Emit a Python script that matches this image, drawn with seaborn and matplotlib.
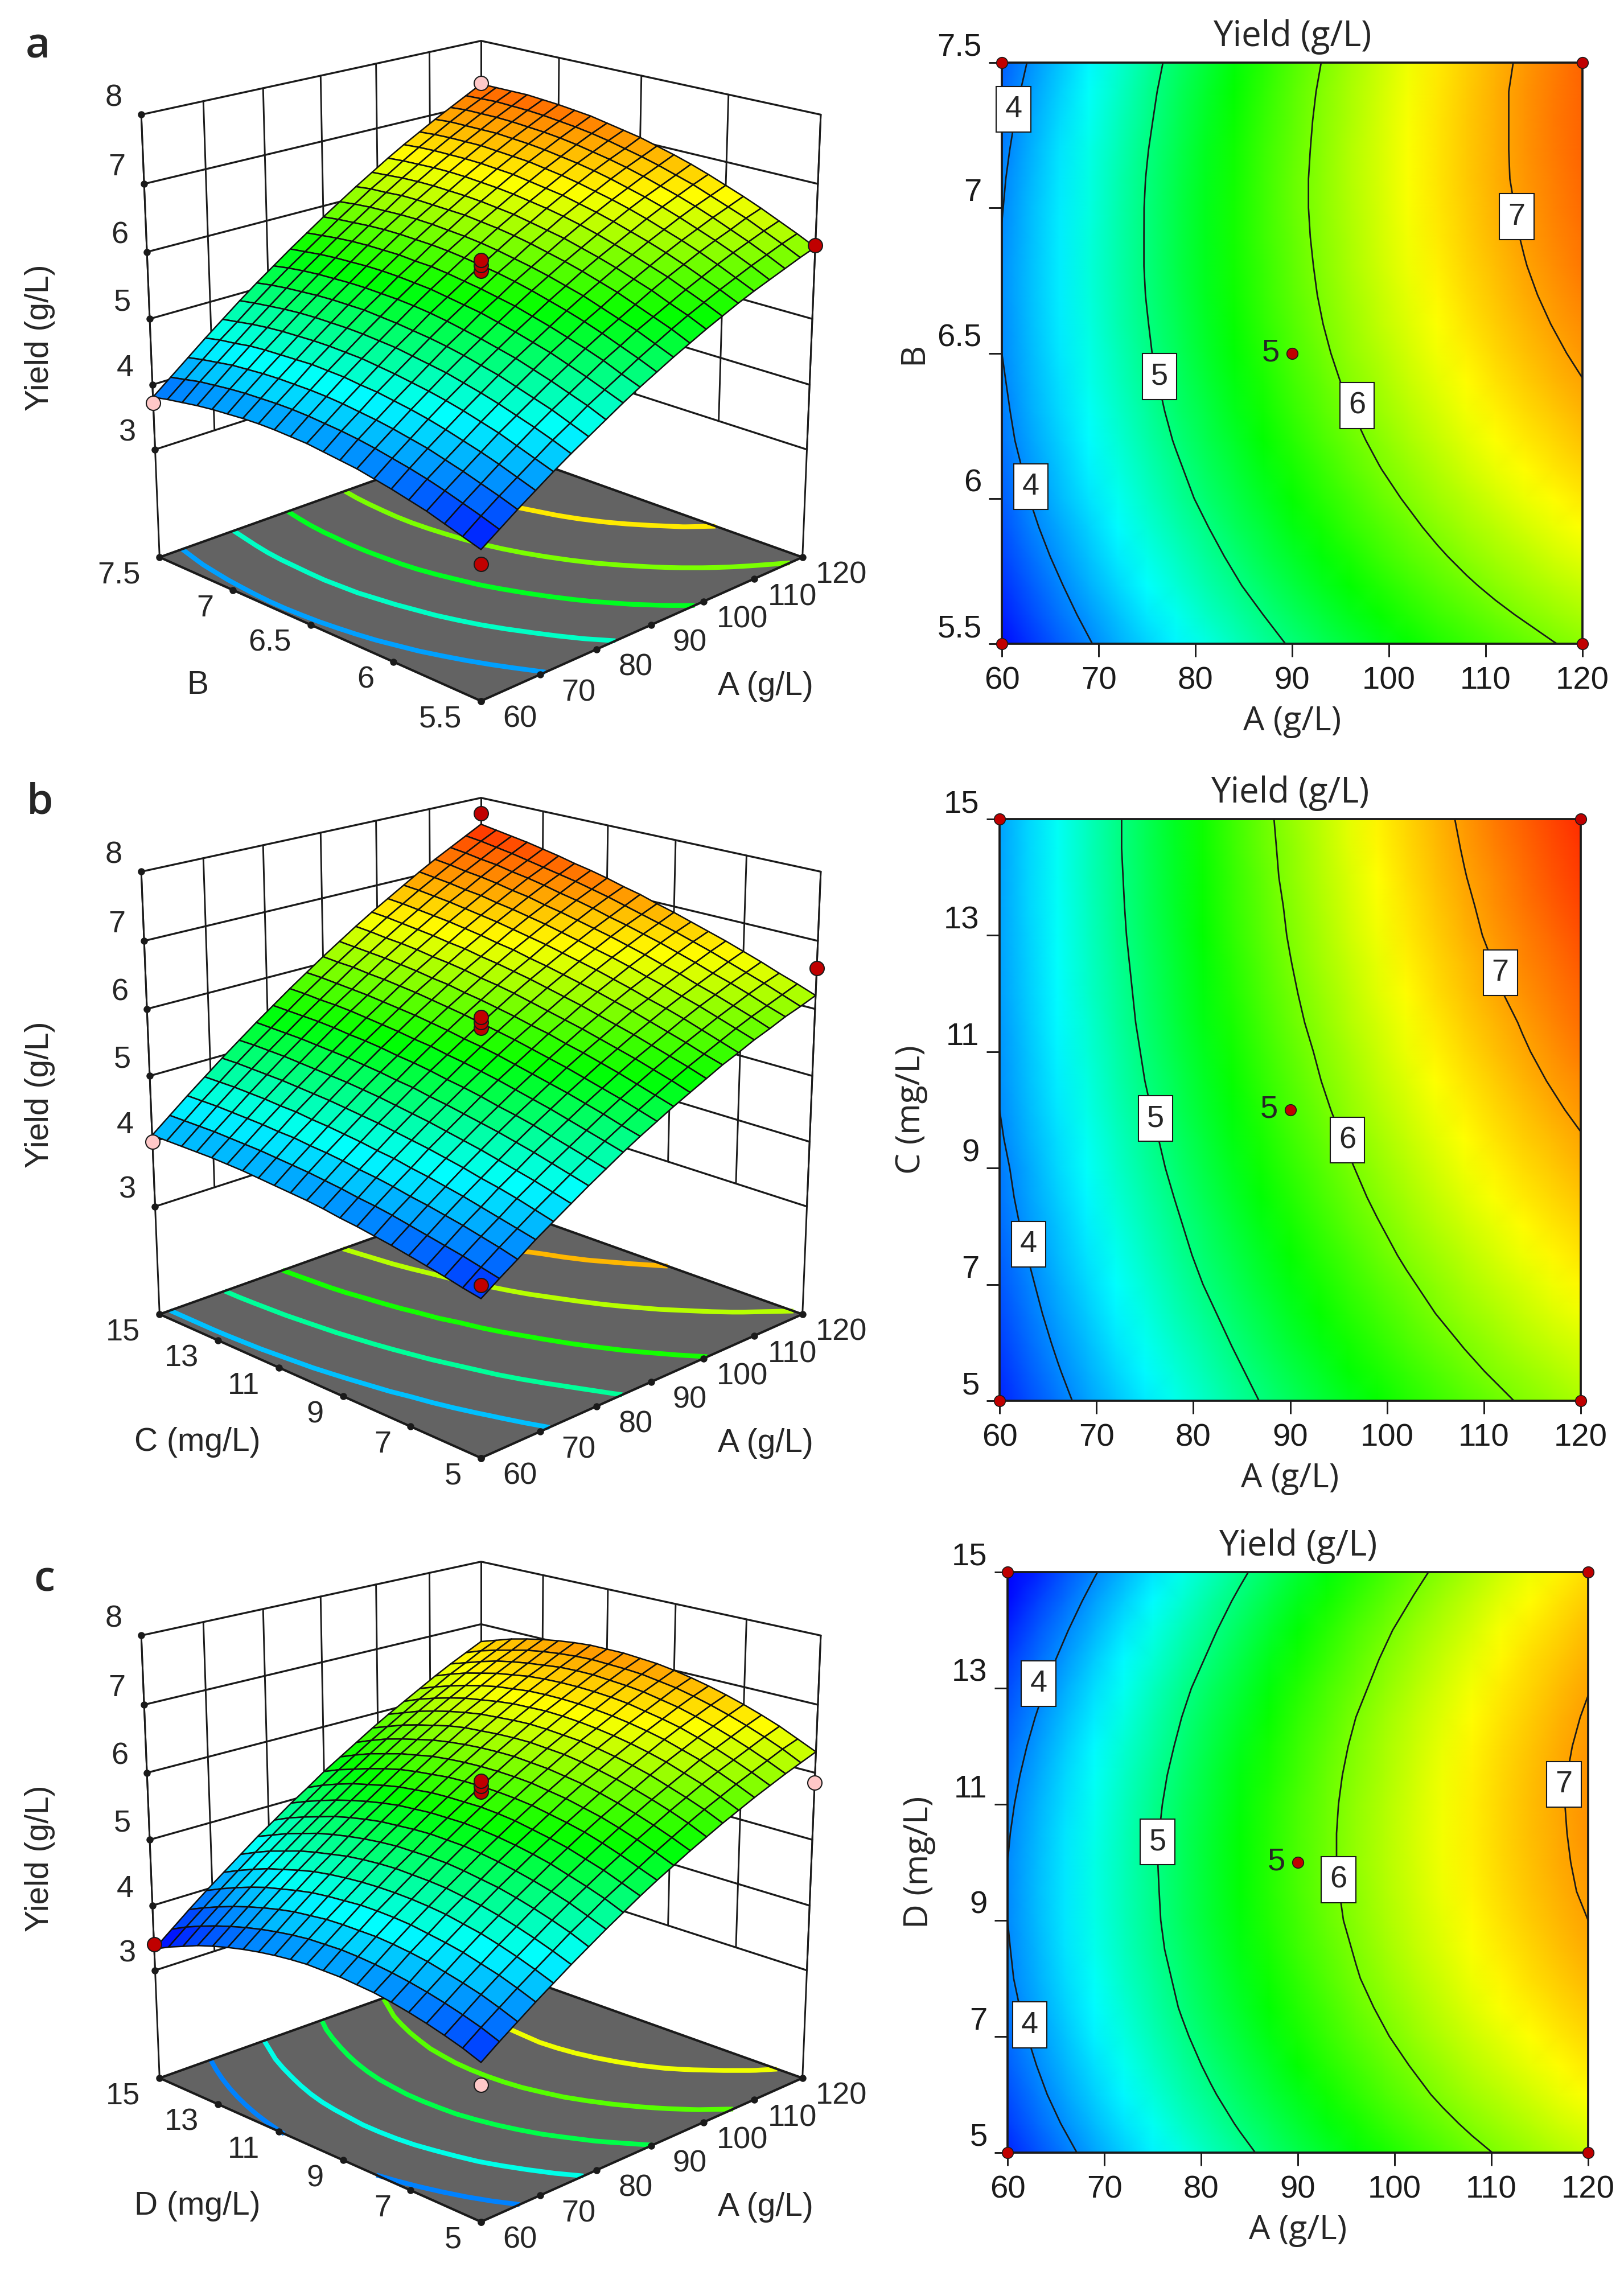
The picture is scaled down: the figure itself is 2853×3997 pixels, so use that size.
import numpy as np
import matplotlib
matplotlib.use("Agg")
import matplotlib.pyplot as plt
import seaborn as sns
from matplotlib.colors import Normalize, LinearSegmentedColormap
from mpl_toolkits.mplot3d import proj3d

W, H = 2853, 3997
DPI = 300
sns.set_theme(style="ticks")
plt.rcParams["font.family"] = ["Liberation Sans", "DejaVu Sans"]

A_TICKS = [60, 70, 80, 90, 100, 110, 120]
Z_TICKS = [3, 4, 5, 6, 7, 8]
Z_FLOOR = 1.3
B_TICKS = [5.5, 6, 6.5, 7, 7.5]
CD_TICKS = [5, 7, 9, 11, 13, 15]

# Yield: rows run from the lowest to the highest factor level, columns from A=60 to A=120
YIELD_AB = np.array([
 [3.45,3.63,3.81,3.98,4.15,4.31,4.46,4.61,4.76,4.90,5.03,5.16,5.28,5.40,5.51,5.62,5.72,5.81,5.90,5.99,6.07],
 [3.53,3.72,3.90,4.07,4.24,4.41,4.56,4.72,4.86,5.00,5.14,5.27,5.40,5.52,5.63,5.74,5.84,5.94,6.03,6.12,6.20],
 [3.61,3.80,3.98,4.16,4.33,4.50,4.66,4.81,4.96,5.11,5.24,5.38,5.50,5.62,5.74,5.85,5.96,6.06,6.15,6.24,6.32],
 [3.69,3.88,4.06,4.24,4.42,4.58,4.74,4.90,5.05,5.20,5.34,5.47,5.60,5.73,5.85,5.96,6.07,6.17,6.26,6.36,6.44],
 [3.75,3.95,4.13,4.31,4.49,4.66,4.82,4.98,5.14,5.28,5.43,5.56,5.70,5.82,5.94,6.06,6.17,6.27,6.37,6.46,6.55],
 [3.81,4.01,4.20,4.38,4.56,4.73,4.90,5.06,5.21,5.36,5.51,5.65,5.78,5.91,6.03,6.15,6.26,6.37,6.47,6.56,6.65],
 [3.86,4.06,4.25,4.44,4.62,4.79,4.96,5.12,5.28,5.43,5.58,5.72,5.86,5.99,6.11,6.23,6.35,6.46,6.56,6.66,6.75],
 [3.91,4.11,4.30,4.49,4.67,4.85,5.02,5.18,5.34,5.50,5.65,5.79,5.93,6.06,6.19,6.31,6.43,6.54,6.64,6.74,6.84],
 [3.94,4.15,4.34,4.53,4.71,4.89,5.07,5.23,5.40,5.55,5.71,5.85,5.99,6.13,6.26,6.38,6.50,6.61,6.72,6.82,6.92],
 [3.97,4.18,4.37,4.57,4.75,4.93,5.11,5.28,5.44,5.60,5.76,5.90,6.05,6.18,6.32,6.44,6.56,6.68,6.79,6.89,6.99],
 [4.00,4.20,4.40,4.59,4.78,4.97,5.14,5.32,5.48,5.64,5.80,5.95,6.10,6.23,6.37,6.50,6.62,6.74,6.85,6.95,7.06],
 [4.01,4.22,4.42,4.62,4.81,4.99,5.17,5.35,5.52,5.68,5.84,5.99,6.14,6.28,6.41,6.54,6.67,6.79,6.90,7.01,7.11],
 [4.02,4.23,4.43,4.63,4.82,5.01,5.19,5.37,5.54,5.71,5.87,6.02,6.17,6.31,6.45,6.58,6.71,6.83,6.95,7.06,7.16],
 [4.02,4.23,4.43,4.64,4.83,5.02,5.21,5.38,5.56,5.72,5.89,6.04,6.20,6.34,6.48,6.62,6.75,6.87,6.99,7.10,7.21],
 [4.01,4.22,4.43,4.63,4.83,5.02,5.21,5.39,5.57,5.74,5.90,6.06,6.21,6.36,6.50,6.64,6.77,6.90,7.02,7.13,7.24],
 [3.99,4.21,4.42,4.62,4.82,5.02,5.21,5.39,5.57,5.74,5.91,6.07,6.22,6.37,6.52,6.66,6.79,6.92,7.04,7.16,7.27],
 [3.97,4.19,4.40,4.61,4.81,5.01,5.20,5.38,5.56,5.74,5.91,6.07,6.23,6.38,6.53,6.67,6.81,6.94,7.06,7.18,7.29],
 [3.94,4.16,4.38,4.59,4.79,4.99,5.18,5.37,5.55,5.73,5.90,6.06,6.23,6.38,6.53,6.67,6.81,6.94,7.07,7.19,7.31],
 [3.90,4.13,4.34,4.55,4.76,4.96,5.16,5.35,5.53,5.71,5.88,6.05,6.21,6.37,6.52,6.67,6.81,6.94,7.07,7.20,7.31],
 [3.86,4.08,4.30,4.52,4.72,4.93,5.13,5.32,5.50,5.68,5.86,6.03,6.20,6.35,6.51,6.66,6.80,6.94,7.07,7.19,7.31],
 [3.81,4.03,4.25,4.47,4.68,4.89,5.09,5.28,5.47,5.65,5.83,6.00,6.17,6.33,6.49,6.64,6.78,6.92,7.05,7.18,7.31]])
YIELD_AC = np.array([
 [3.56,3.74,3.91,4.09,4.25,4.41,4.57,4.72,4.87,5.01,5.14,5.27,5.39,5.51,5.63,5.73,5.84,5.93,6.03,6.11,6.20],
 [3.61,3.80,3.98,4.15,4.32,4.48,4.64,4.79,4.94,5.08,5.22,5.35,5.48,5.60,5.71,5.82,5.93,6.03,6.12,6.21,6.30],
 [3.67,3.86,4.04,4.21,4.39,4.55,4.71,4.86,5.01,5.16,5.30,5.43,5.56,5.68,5.80,5.91,6.02,6.12,6.22,6.31,6.39],
 [3.72,3.91,4.10,4.27,4.45,4.61,4.78,4.93,5.08,5.23,5.37,5.51,5.64,5.76,5.88,6.00,6.11,6.21,6.31,6.40,6.49],
 [3.77,3.96,4.15,4.33,4.50,4.67,4.84,5.00,5.15,5.30,5.44,5.58,5.71,5.84,5.96,6.08,6.19,6.29,6.39,6.49,6.58],
 [3.82,4.01,4.20,4.38,4.56,4.73,4.90,5.06,5.21,5.36,5.51,5.65,5.78,5.91,6.04,6.15,6.27,6.38,6.48,6.58,6.67],
 [3.86,4.06,4.24,4.43,4.61,4.78,4.95,5.11,5.27,5.42,5.57,5.71,5.85,5.98,6.11,6.23,6.34,6.45,6.56,6.66,6.75],
 [3.90,4.10,4.29,4.47,4.66,4.83,5.00,5.17,5.33,5.48,5.63,5.78,5.91,6.05,6.18,6.30,6.42,6.53,6.64,6.74,6.83],
 [3.93,4.13,4.33,4.52,4.70,4.88,5.05,5.22,5.38,5.54,5.69,5.83,5.97,6.11,6.24,6.37,6.49,6.60,6.71,6.81,6.91],
 [3.97,4.17,4.36,4.55,4.74,4.92,5.09,5.26,5.43,5.59,5.74,5.89,6.03,6.17,6.30,6.43,6.55,6.67,6.78,6.88,6.98],
 [4.00,4.20,4.40,4.59,4.78,4.96,5.14,5.31,5.47,5.63,5.79,5.94,6.09,6.23,6.36,6.49,6.61,6.73,6.84,6.95,7.06],
 [4.02,4.23,4.43,4.62,4.81,5.00,5.17,5.35,5.52,5.68,5.84,5.99,6.14,6.28,6.41,6.55,6.67,6.79,6.91,7.02,7.12],
 [4.04,4.25,4.45,4.65,4.84,5.03,5.21,5.38,5.55,5.72,5.88,6.03,6.18,6.33,6.47,6.60,6.73,6.85,6.97,7.08,7.19],
 [4.06,4.27,4.48,4.67,4.87,5.06,5.24,5.42,5.59,5.76,5.92,6.08,6.23,6.37,6.51,6.65,6.78,6.90,7.02,7.14,7.25],
 [4.08,4.29,4.49,4.70,4.89,5.08,5.27,5.45,5.62,5.79,5.96,6.11,6.27,6.42,6.56,6.70,6.83,6.96,7.08,7.19,7.30],
 [4.09,4.30,4.51,4.71,4.91,5.10,5.29,5.47,5.65,5.82,5.99,6.15,6.30,6.45,6.60,6.74,6.87,7.00,7.13,7.24,7.36],
 [4.10,4.31,4.52,4.73,4.93,5.12,5.31,5.50,5.68,5.85,6.02,6.18,6.34,6.49,6.64,6.78,6.92,7.05,7.17,7.29,7.41],
 [4.10,4.32,4.53,4.74,4.94,5.14,5.33,5.52,5.70,5.87,6.04,6.21,6.37,6.52,6.67,6.82,6.95,7.09,7.22,7.34,7.46],
 [4.10,4.32,4.54,4.75,4.95,5.15,5.34,5.53,5.71,5.89,6.07,6.23,6.39,6.55,6.70,6.85,6.99,7.12,7.25,7.38,7.50],
 [4.10,4.32,4.54,4.75,4.96,5.16,5.35,5.54,5.73,5.91,6.08,6.25,6.42,6.58,6.73,6.88,7.02,7.16,7.29,7.42,7.54],
 [4.10,4.32,4.54,4.75,4.96,5.16,5.36,5.55,5.74,5.92,6.10,6.27,6.44,6.60,6.75,6.90,7.05,7.19,7.32,7.45,7.58]])
YIELD_AD = np.array([
 [3.56,3.75,3.93,4.11,4.28,4.45,4.61,4.77,4.92,5.07,5.21,5.34,5.47,5.59,5.71,5.82,5.93,6.03,6.13,6.22,6.31],
 [3.66,3.85,4.03,4.21,4.38,4.55,4.72,4.87,5.03,5.17,5.31,5.45,5.58,5.71,5.83,5.94,6.05,6.15,6.25,6.35,6.43],
 [3.74,3.93,4.12,4.30,4.47,4.64,4.81,4.97,5.12,5.27,5.41,5.55,5.68,5.81,5.93,6.05,6.16,6.26,6.36,6.46,6.55],
 [3.81,4.00,4.19,4.37,4.55,4.72,4.89,5.05,5.20,5.35,5.50,5.64,5.77,5.90,6.02,6.14,6.26,6.36,6.46,6.56,6.65],
 [3.87,4.06,4.25,4.44,4.62,4.79,4.96,5.12,5.28,5.43,5.58,5.72,5.85,5.98,6.11,6.23,6.34,6.45,6.55,6.65,6.74],
 [3.92,4.11,4.31,4.49,4.67,4.85,5.02,5.18,5.34,5.49,5.64,5.78,5.92,6.05,6.18,6.30,6.42,6.53,6.63,6.73,6.82],
 [3.96,4.15,4.35,4.53,4.72,4.89,5.06,5.23,5.39,5.54,5.69,5.84,5.98,6.11,6.24,6.36,6.48,6.59,6.70,6.80,6.89],
 [3.98,4.18,4.38,4.57,4.75,4.93,5.10,5.27,5.43,5.59,5.74,5.88,6.02,6.16,6.29,6.41,6.53,6.64,6.75,6.86,6.95],
 [4.00,4.20,4.40,4.59,4.77,4.95,5.13,5.30,5.46,5.62,5.77,5.92,6.06,6.20,6.33,6.45,6.57,6.69,6.80,6.90,7.00],
 [4.00,4.21,4.40,4.60,4.78,4.96,5.14,5.31,5.48,5.64,5.79,5.94,6.08,6.22,6.35,6.48,6.60,6.72,6.83,6.94,7.04],
 [4.00,4.20,4.40,4.60,4.78,4.97,5.14,5.32,5.48,5.64,5.80,5.95,6.10,6.24,6.37,6.50,6.62,6.74,6.85,6.96,7.06],
 [3.98,4.19,4.39,4.58,4.77,4.96,5.14,5.31,5.48,5.64,5.80,5.95,6.10,6.24,6.38,6.51,6.63,6.75,6.87,6.97,7.08],
 [3.95,4.16,4.36,4.56,4.75,4.94,5.12,5.29,5.46,5.63,5.79,5.94,6.09,6.23,6.37,6.50,6.63,6.75,6.87,6.98,7.08],
 [3.91,4.12,4.33,4.53,4.72,4.91,5.09,5.27,5.44,5.60,5.76,5.92,6.07,6.21,6.35,6.49,6.62,6.74,6.86,6.97,7.08],
 [3.86,4.07,4.28,4.48,4.68,4.86,5.05,5.23,5.40,5.57,5.73,5.89,6.04,6.19,6.33,6.46,6.59,6.72,6.83,6.95,7.06],
 [3.80,4.01,4.22,4.42,4.62,4.81,5.00,5.18,5.35,5.52,5.69,5.84,6.00,6.15,6.29,6.42,6.56,6.68,6.80,6.92,7.03],
 [3.73,3.94,4.15,4.36,4.55,4.75,4.94,5.12,5.29,5.46,5.63,5.79,5.94,6.09,6.24,6.38,6.51,6.64,6.76,6.88,6.99],
 [3.65,3.86,4.07,4.28,4.48,4.67,4.86,5.04,5.22,5.40,5.56,5.72,5.88,6.03,6.18,6.32,6.45,6.58,6.71,6.82,6.94],
 [3.55,3.77,3.98,4.19,4.39,4.59,4.78,4.96,5.14,5.32,5.48,5.65,5.81,5.96,6.11,6.25,6.38,6.52,6.64,6.76,6.88],
 [3.45,3.67,3.88,4.09,4.29,4.49,4.68,4.87,5.05,5.23,5.40,5.56,5.72,5.87,6.02,6.17,6.30,6.44,6.56,6.69,6.80],
 [3.33,3.55,3.77,3.98,4.18,4.38,4.58,4.76,4.95,5.12,5.30,5.46,5.62,5.78,5.93,6.07,6.21,6.35,6.48,6.60,6.72]])

FLOOR_LEVELS = {"a": [4.09,4.73,5.37,6.0,6.65], "b": [4.23,4.9,5.58,6.25,6.9], "c": [3.96,4.59,5.22,5.85,6.48]}
POINTS = {
 "a": [(60,7.5,3.72,"p"),(120,7.5,7.33,"p"),(120,5.5,6.1,"r"),(60,5.5,3.25,"r"),(90,6.5,5.72,"r"),(90,6.5,5.8,"r"),(90,6.5,5.88,"r")],
 "b": [(60,15,4.0,"p"),(120,15,7.75,"r"),(120,5,6.6,"r"),(60,5,3.75,"r"),(90,10,5.72,"r"),(90,10,5.8,"r"),(90,10,5.88,"r")],
 "c": [(60,15,3.4,"r"),(120,5,5.85,"p"),(60,5,3.25,"p"),(90,10,5.72,"r"),(90,10,5.8,"r"),(90,10,5.88,"r")],
}
LABELS = {
 "a": [(61.2,7.34,"4"),(63,6.04,"4"),(76.3,6.42,"5"),(96.7,6.32,"6"),(113.2,6.97,"7")],
 "b": [(63,7.69,"4"),(76.1,9.85,"5"),(95.9,9.48,"6"),(111.7,12.36,"7")],
 "c": [(63.2,13.08,"4"),(62.3,7.2,"4"),(75.5,10.35,"5"),(94.2,9.7,"6"),(117.5,11.34,"7")],
}

cmap = LinearSegmentedColormap.from_list(
    "rsm", [(0, "#0000ff"), (.25, "#00ffff"), (.477, "#00ff00"), (.716, "#ffff00"), (1, "#ff0000")], N=512)
norm = Normalize(3.4, 7.8)
RED, PINK = "#c00000", "#ffc8c8"

fig = plt.figure(figsize=(W / DPI, H / DPI), dpi=DPI, facecolor="white")

def rect(x0, y0, x1, y1):
    return [x0 / W, 1 - y1 / H, (x1 - x0) / W, (y1 - y0) / H]

S3D = 1380
def panel3d(key, table, fticks, fname, dy):
    cx, cy = 845, 601 + dy
    x0 = cx - .5135 * S3D
    y1 = cy + .5135 * S3D
    ax = fig.add_axes(rect(x0, y1 - S3D, x0 + S3D, y1), projection="3d", computed_zorder=False)
    ax.patch.set_alpha(0)
    ax.set_axis_off()
    ax.set_proj_type("persp", focal_length=0.64)
    ax.view_init(elev=18.8, azim=-135)
    ax.set_box_aspect((1, 1, 1.0))
    a_lo, a_hi = A_TICKS[0], A_TICKS[-1]
    f_lo, f_hi = fticks[0], fticks[-1]
    n = table.shape[0]
    X, Y = np.meshgrid(np.linspace(a_lo, a_hi, n), np.linspace(f_lo, f_hi, n))
    for a in A_TICKS:
        ax.plot([a, a], [f_hi, f_hi], [Z_TICKS[0], Z_TICKS[-1]], color="k", lw=.7, zorder=1)
    for f in fticks:
        ax.plot([a_hi, a_hi], [f, f], [Z_TICKS[0], Z_TICKS[-1]], color="k", lw=.7, zorder=1)
    for z in Z_TICKS:
        ax.plot([a_lo, a_hi, a_hi], [f_hi, f_hi, f_lo], [z, z, z], color="k", lw=.8, zorder=1)
    for a, f in [(a_lo, f_hi), (a_hi, f_hi), (a_hi, f_lo)]:
        ax.plot([a, a], [f, f], [Z_FLOOR, Z_TICKS[-1]], color="k", lw=.7, zorder=1)
    ax.plot_surface(np.array([[a_lo, a_hi], [a_lo, a_hi]]), np.array([[f_lo, f_lo], [f_hi, f_hi]]),
                    np.full((2, 2), Z_FLOOR), color="#636363", shade=False, zorder=2, linewidth=0)
    ax.contour(X, Y, table, levels=FLOOR_LEVELS[key], zdir="z", offset=Z_FLOOR, cmap=cmap, norm=norm,
               linewidths=2.0, zorder=3)
    ax.plot([a_lo, a_hi, a_hi, a_lo, a_lo], [f_hi, f_hi, f_lo, f_lo, f_hi], [Z_FLOOR] * 5, color="k", lw=1.0, zorder=4)
    ax.scatter(A_TICKS, [f_lo] * len(A_TICKS), [Z_FLOOR] * len(A_TICKS), color="k", s=4, depthshade=False, zorder=4)
    ax.scatter([a_lo] * len(fticks), fticks, [Z_FLOOR] * len(fticks), color="k", s=4, depthshade=False, zorder=4)
    ax.scatter([a_lo] * len(Z_TICKS), [f_hi] * len(Z_TICKS), Z_TICKS, color="k", s=4, depthshade=False, zorder=1.5)
    ax.plot_surface(X, Y, table, cmap=cmap, norm=norm, rstride=1, cstride=1, shade=False,
                    edgecolor="#101010", linewidth=.6, antialiased=True, zorder=5)
    for a, f, z, c in POINTS[key]:
        ax.scatter([a], [f], [z], color=RED if c == "r" else PINK, edgecolor="k", linewidth=.5, s=36,
                   depthshade=False, zorder=6)
    ax.set_xlim(a_lo, a_hi); ax.set_ylim(f_lo, f_hi); ax.set_zlim(Z_FLOOR, Z_TICKS[-1])
    M = ax.get_proj()
    def lab(x, y, z, txt, dx, dyp, ha):
        px, py, _ = proj3d.proj_transform(x, y, z, M)
        ax.annotate(txt, (px, py), xytext=(dx, dyp), textcoords="offset pixels", ha=ha, va="center",
                    fontsize=13, annotation_clip=False, zorder=7)
    for a in A_TICKS:
        lab(a, f_lo, Z_FLOOR, str(a), 68, -32, "center")
    for f in fticks:
        lab(a_lo, f, Z_FLOOR, f"{f:g}", -34, -32, "right")
    for z in Z_TICKS:
        lab(a_lo, f_hi, z, str(z), -33, 29, "right")
    fig.text(347 / W, 1 - (1204 + dy) / H, fname, fontsize=13.7, ha="center", va="center")
    fig.text(1345 / W, 1 - (1206 + dy) / H, "A (g/L)", fontsize=13.7, ha="center", va="center")
    fig.text(70 / W, 1 - (593 + dy) / H, "Yield (g/L)", fontsize=13.7, rotation=90, ha="center", va="center")

def panel2d(key, table, fticks, fname, box):
    ax = fig.add_axes(rect(*box))
    a_lo, a_hi = A_TICKS[0], A_TICKS[-1]
    f_lo, f_hi = fticks[0], fticks[-1]
    n = table.shape[0]
    X, Y = np.meshgrid(np.linspace(a_lo, a_hi, n), np.linspace(f_lo, f_hi, n))
    ax.pcolormesh(X, Y, table, cmap=cmap, norm=norm, shading="gouraud", rasterized=False)
    ax.contour(X, Y, table, levels=[4, 5, 6, 7], colors="k", linewidths=.65)
    for x, y, t in LABELS[key]:
        ax.text(x, y, t, fontsize=13, ha="center", va="center", zorder=4,
                bbox=dict(boxstyle="square,pad=0.28", fc="white", ec="k", lw=.5))
    px = [a_lo, a_lo, a_hi, a_hi, 90]
    py = [f_lo, f_hi, f_lo, f_hi, fticks[0] + (f_hi - f_lo) / 2]
    sns.scatterplot(x=px, y=py, ax=ax, color=RED, edgecolor="k", linewidth=.4, s=22, zorder=5, clip_on=False, legend=False)
    ax.annotate("5", (90, py[-1]), xytext=(-22, 0), textcoords="offset pixels", ha="right", va="center", fontsize=13.5, zorder=5)
    ax.set_xlim(a_lo, a_hi); ax.set_ylim(f_lo, f_hi)
    ax.set_xticks(A_TICKS); ax.set_yticks(fticks)
    ax.set_yticklabels([f"{f:g}" for f in fticks], va="bottom")
    ax.tick_params(axis="both", direction="out", length=5.5, width=.7, labelsize=13.5, color="k", labelcolor="k", pad=3)
    ax.tick_params(axis="x", pad=4)
    for s in ax.spines.values():
        s.set_linewidth(.9); s.set_color("k")
    cx = (box[0] + box[2]) / 2
    fig.text(cx / W, 1 - (box[1] - 45) / H, "Yield (g/L)", family="Open Sans", fontsize=14.8, ha="center", va="center")
    fig.text(cx / W, 1 - (box[3] + 137) / H, "A (g/L)", family="Open Sans", fontsize=14.2, ha="center", va="center")
    fig.text((box[0] - 155) / W, 1 - (box[1] + box[3]) / 2 / H, fname, family="Open Sans", fontsize=14.2, rotation=90, ha="center", va="center")

panel3d("a", YIELD_AB, B_TICKS, "B", 0)
panel3d("b", YIELD_AC, CD_TICKS, "C (mg/L)", 1330)
panel3d("c", YIELD_AD, CD_TICKS, "D (mg/L)", 2672)
panel2d("a", YIELD_AB, B_TICKS, "B", (1760, 110, 2780, 1131))
panel2d("b", YIELD_AC, CD_TICKS, "C (mg/L)", (1756, 1439, 2777, 2461))
panel2d("c", YIELD_AD, CD_TICKS, "D (mg/L)", (1770, 2762, 2790, 3782))
for t, x, y in [("a", 67, 83), ("b", 70, 1410), ("c", 78, 2777)]:
    fig.text(x / W, 1 - y / H, t, family="Open Sans", fontsize=18, fontweight="semibold", ha="center", va="center")

fig.savefig("out.png", dpi=DPI)
